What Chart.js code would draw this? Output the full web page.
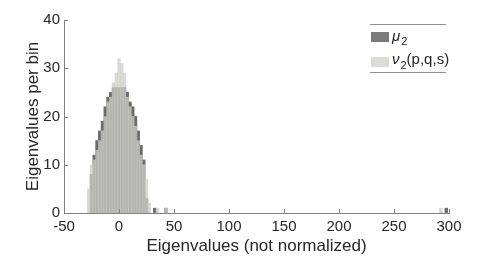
<!DOCTYPE html>
<html>
<head>
<meta charset="utf-8">
<script src="https://cdn.jsdelivr.net/npm/chart.js@4.4.1/dist/chart.umd.min.js"></script>
<style>
  html, body { margin: 0; padding: 0; background: #fff; }
  canvas { display: block; }
</style>
</head>
<body>
<canvas id="hist" width="498" height="258"></canvas>
<script>
// Bin centres (bin width 2.5) plus the few outlying bins
var binCenters = [-27.5, -25, -22.5, -20, -17.5, -15, -12.5, -10, -7.5, -5, -2.5, 0,
  2.5, 5, 7.5, 10, 12.5, 15, 17.5, 20, 22.5, 25, 27.5, 32.5, 35, 42.5, 292.5, 297.5];
var mu2 = [0, 8, 12, 15, 17, 19, 22, 24, 25, 26, 26, 26,
  26, 26, 25, 23, 22, 20, 17, 14, 11, 3, 0, 1, 0, 1, 0, 1];
var nu2 = [5, 10, 11, 13, 15, 17, 20, 23, 24, 27, 29, 32,
  31, 29, 24, 22, 20, 18, 15, 12, 10, 7, 2, 0, 1, 1, 1, 0];
var xTicks = [-50, 0, 50, 100, 150, 200, 250, 300];
var yTicks = [0, 10, 20, 30, 40];

var axisColor = "#808080";
var textColor = "#262626";
var fontFamily = "'Liberation Sans', Arial, sans-serif";

function toPoints(values) {
  return binCenters.map(function (c, i) {
    return { x: c, y: values[i] };
  });
}

// Ticks pointing into the plot, like MATLAB
var inwardTicks = {
  id: "inwardTicks",
  afterDraw: function (chart) {
    var ctx = chart.ctx;
    var xs = chart.scales.x;
    var ys = chart.scales.y;
    ctx.save();
    ctx.strokeStyle = axisColor;
    ctx.lineWidth = 1;
    ctx.beginPath();
    xs.ticks.forEach(function (t) {
      var px = Math.round(xs.getPixelForValue(t.value)) + 0.5;
      ctx.moveTo(px, ys.bottom);
      ctx.lineTo(px, ys.bottom - 4);
    });
    ys.ticks.forEach(function (t) {
      var py = Math.round(ys.getPixelForValue(t.value)) + 0.5;
      ctx.moveTo(xs.left, py);
      ctx.lineTo(xs.left + 4, py);
    });
    ctx.stroke();
    ctx.restore();
  }
};

// Legend box with rules above and below
var boxLegend = {
  id: "boxLegend",
  afterDraw: function (chart) {
    var ctx = chart.ctx;
    var ds = chart.data.datasets;
    ctx.save();
    ctx.strokeStyle = "#8c8c8c";
    ctx.lineWidth = 1;
    ctx.beginPath();
    ctx.moveTo(370, 24.5);
    ctx.lineTo(446, 24.5);
    ctx.moveTo(370, 72.5);
    ctx.lineTo(446, 72.5);
    ctx.stroke();

    ctx.fillStyle = "#7a7a7a";
    ctx.fillRect(371, 32, 18, 10);
    ctx.fillStyle = "#dcdcd6";
    ctx.fillRect(371, 57, 18, 10);

    ctx.fillStyle = textColor;
    ctx.textBaseline = "alphabetic";
    ctx.font = "italic 15px " + fontFamily;
    ctx.fillText(ds[0].symbol, 392, 41);
    var w = ctx.measureText(ds[0].symbol).width;
    ctx.font = "11px " + fontFamily;
    ctx.fillText("2", 393 + w, 45);

    ctx.font = "italic 15px " + fontFamily;
    ctx.fillText(ds[1].symbol, 392, 64);
    w = ctx.measureText(ds[1].symbol).width;
    ctx.font = "11px " + fontFamily;
    ctx.fillText("2", 393 + w, 69);
    var w2 = ctx.measureText("2").width;
    ctx.font = "15px " + fontFamily;
    ctx.fillText(ds[1].suffix, 393 + w + w2, 64);
    ctx.restore();
  }
};

var ctx = document.getElementById("hist").getContext("2d");
var myChart = new Chart(ctx, {
  type: "bar",
  data: {
    datasets: [
      {
        label: "\u03bc2",
        symbol: "\u03bc",
        data: toPoints(mu2),
        backgroundColor: "#6b6b6b",
        order: 1
      },
      {
        label: "\u03bd2(p,q,s)",
        symbol: "\u03bd",
        suffix: "(p,q,s)",
        data: toPoints(nu2),
        backgroundColor: "rgba(206, 206, 198, 0.74)",
        order: 0
      }
    ]
  },
  options: {
    responsive: false,
    animation: false,
    grouped: false,
    barPercentage: 1,
    categoryPercentage: 1,
    layout: { padding: { top: 20, right: 49, left: 0, bottom: 0 } },
    plugins: {
      legend: { display: false },
      tooltip: { enabled: false }
    },
    scales: {
      x: {
        type: "linear",
        offset: false,
        min: -50,
        max: 300,
        afterBuildTicks: function (scale) {
          scale.ticks = xTicks.map(function (v) { return { value: v }; });
        },
        afterFit: function (scale) { scale.height = 45; },
        grid: { display: false, drawTicks: false },
        border: { display: true, color: axisColor },
        ticks: {
          color: textColor,
          padding: 5,
          maxRotation: 0,
          font: { family: fontFamily, size: 15 }
        },
        title: {
          display: true,
          text: "Eigenvalues (not normalized)",
          color: textColor,
          padding: { top: 0, bottom: 1 },
          font: { family: fontFamily, size: 17 }
        }
      },
      y: {
        min: 0,
        max: 40,
        afterBuildTicks: function (scale) {
          scale.ticks = yTicks.map(function (v) { return { value: v }; });
        },
        afterFit: function (scale) { scale.width = 64; },
        grid: { display: false, drawTicks: false },
        border: { display: true, color: axisColor },
        ticks: {
          color: textColor,
          padding: 4,
          font: { family: fontFamily, size: 15 }
        },
        title: {
          display: true,
          text: "Eigenvalues per bin",
          color: textColor,
          padding: { top: 23, bottom: 0 },
          font: { family: fontFamily, size: 17 }
        }
      }
    }
  },
  plugins: [inwardTicks, boxLegend]
});
</script>
</body>
</html>
